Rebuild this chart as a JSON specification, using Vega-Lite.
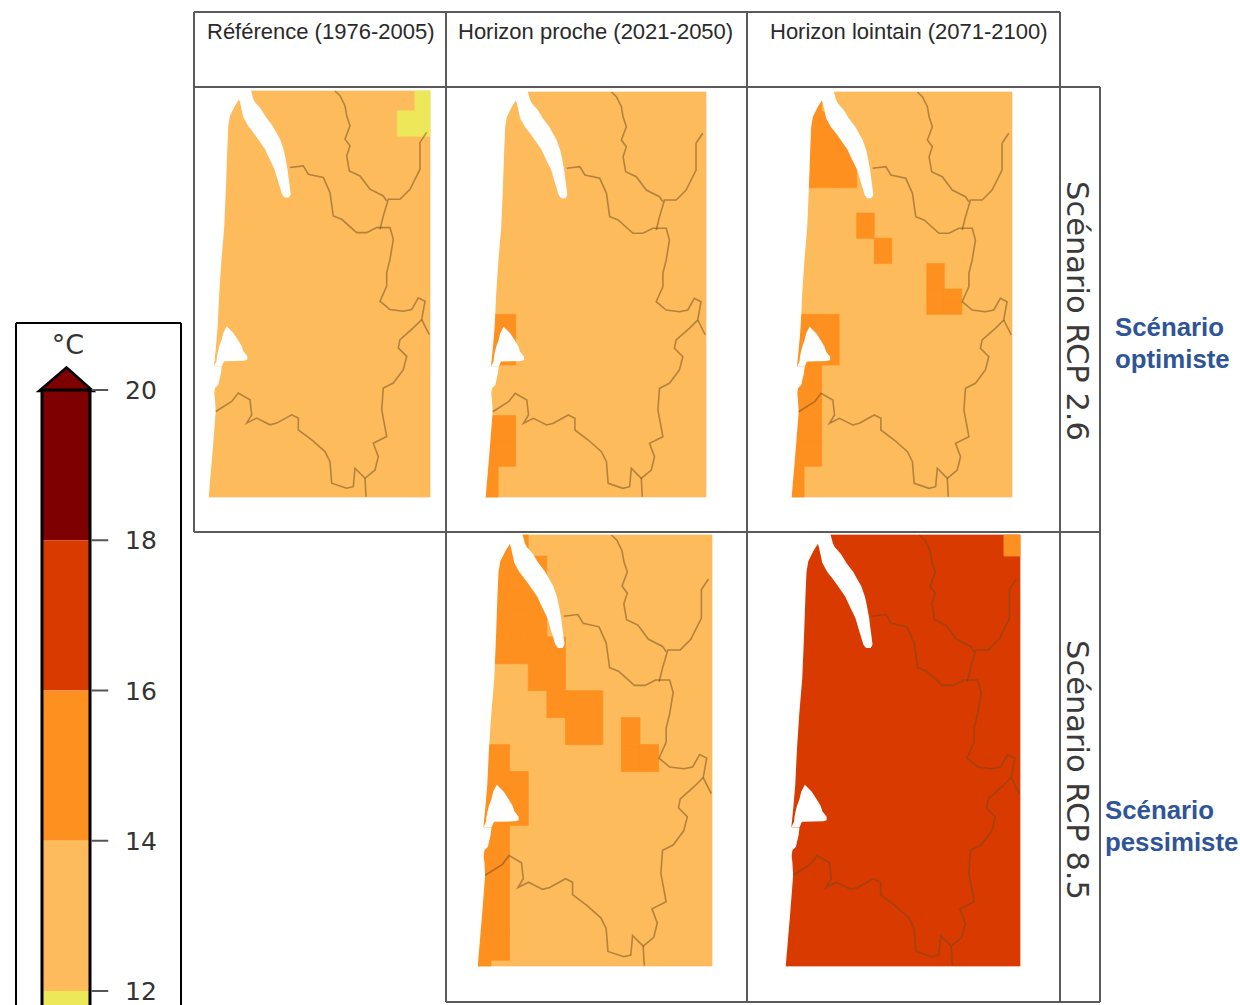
{
"$schema":"https://vega.github.io/schema/vega-lite/v6.json",
"width":1240,"height":1005,"padding":0,"autosize":{"type":"none"},"background":"white",
"config":{"view":{"stroke":null}},
"datasets":{
"cells":[
{"p":1,"x":-4.4,"x2":222,"y":0,"y2":405,"t":"12-14"},
{"p":1,"x":206.8,"x2":222,"y":0,"y2":19.8,"t":"10-12"},
{"p":1,"x":189.2,"x2":206.8,"y":19.8,"y2":45.1,"t":"10-12"},
{"p":1,"x":206.8,"x2":222,"y":19.8,"y2":45.1,"t":"10-12"},
{"p":2,"x":-4.4,"x2":222,"y":0,"y2":405,"t":"12-14"},
{"p":2,"x":-4.4,"x2":13.2,"y":222.3,"y2":247.6,"t":"14-16"},
{"p":2,"x":13.2,"x2":30.8,"y":222.3,"y2":247.6,"t":"14-16"},
{"p":2,"x":-4.4,"x2":13.2,"y":247.6,"y2":273,"t":"14-16"},
{"p":2,"x":13.2,"x2":30.8,"y":247.6,"y2":273,"t":"14-16"},
{"p":2,"x":-4.4,"x2":13.2,"y":323.6,"y2":349,"t":"14-16"},
{"p":2,"x":13.2,"x2":30.8,"y":323.6,"y2":349,"t":"14-16"},
{"p":2,"x":-4.4,"x2":13.2,"y":349,"y2":374.3,"t":"14-16"},
{"p":2,"x":13.2,"x2":30.8,"y":349,"y2":374.3,"t":"14-16"},
{"p":2,"x":-4.4,"x2":13.2,"y":374.3,"y2":399.6,"t":"14-16"},
{"p":2,"x":-4.4,"x2":13.2,"y":399.6,"y2":405,"t":"14-16"},
{"p":3,"x":-4.4,"x2":222,"y":0,"y2":405,"t":"12-14"},
{"p":3,"x":-4.4,"x2":13.2,"y":0,"y2":19.8,"t":"14-16"},
{"p":3,"x":13.2,"x2":30.8,"y":0,"y2":19.8,"t":"14-16"},
{"p":3,"x":-4.4,"x2":13.2,"y":19.8,"y2":45.1,"t":"14-16"},
{"p":3,"x":13.2,"x2":30.8,"y":19.8,"y2":45.1,"t":"14-16"},
{"p":3,"x":30.8,"x2":48.4,"y":19.8,"y2":45.1,"t":"14-16"},
{"p":3,"x":-4.4,"x2":13.2,"y":45.1,"y2":70.4,"t":"14-16"},
{"p":3,"x":13.2,"x2":30.8,"y":45.1,"y2":70.4,"t":"14-16"},
{"p":3,"x":30.8,"x2":48.4,"y":45.1,"y2":70.4,"t":"14-16"},
{"p":3,"x":48.4,"x2":66,"y":45.1,"y2":70.4,"t":"14-16"},
{"p":3,"x":-4.4,"x2":13.2,"y":70.4,"y2":95.7,"t":"14-16"},
{"p":3,"x":13.2,"x2":30.8,"y":70.4,"y2":95.7,"t":"14-16"},
{"p":3,"x":30.8,"x2":48.4,"y":70.4,"y2":95.7,"t":"14-16"},
{"p":3,"x":48.4,"x2":66,"y":70.4,"y2":95.7,"t":"14-16"},
{"p":3,"x":66,"x2":83.6,"y":121,"y2":146.3,"t":"14-16"},
{"p":3,"x":83.6,"x2":101.2,"y":146.3,"y2":171.6,"t":"14-16"},
{"p":3,"x":136.4,"x2":154,"y":171.6,"y2":197,"t":"14-16"},
{"p":3,"x":136.4,"x2":154,"y":197,"y2":222.3,"t":"14-16"},
{"p":3,"x":154,"x2":171.6,"y":197,"y2":222.3,"t":"14-16"},
{"p":3,"x":-4.4,"x2":13.2,"y":222.3,"y2":247.6,"t":"14-16"},
{"p":3,"x":13.2,"x2":30.8,"y":222.3,"y2":247.6,"t":"14-16"},
{"p":3,"x":30.8,"x2":48.4,"y":222.3,"y2":247.6,"t":"14-16"},
{"p":3,"x":-4.4,"x2":13.2,"y":247.6,"y2":273,"t":"14-16"},
{"p":3,"x":13.2,"x2":30.8,"y":247.6,"y2":273,"t":"14-16"},
{"p":3,"x":30.8,"x2":48.4,"y":247.6,"y2":273,"t":"14-16"},
{"p":3,"x":-4.4,"x2":13.2,"y":273,"y2":298.3,"t":"14-16"},
{"p":3,"x":13.2,"x2":30.8,"y":273,"y2":298.3,"t":"14-16"},
{"p":3,"x":-4.4,"x2":13.2,"y":298.3,"y2":323.6,"t":"14-16"},
{"p":3,"x":13.2,"x2":30.8,"y":298.3,"y2":323.6,"t":"14-16"},
{"p":3,"x":-4.4,"x2":13.2,"y":323.6,"y2":349,"t":"14-16"},
{"p":3,"x":13.2,"x2":30.8,"y":323.6,"y2":349,"t":"14-16"},
{"p":3,"x":-4.4,"x2":13.2,"y":349,"y2":374.3,"t":"14-16"},
{"p":3,"x":13.2,"x2":30.8,"y":349,"y2":374.3,"t":"14-16"},
{"p":3,"x":-4.4,"x2":13.2,"y":374.3,"y2":399.6,"t":"14-16"},
{"p":3,"x":-4.4,"x2":13.2,"y":399.6,"y2":405,"t":"14-16"},
{"p":4,"x":-4.4,"x2":222,"y":0,"y2":405,"t":"12-14"},
{"p":4,"x":-4.4,"x2":13.2,"y":0,"y2":19.8,"t":"14-16"},
{"p":4,"x":13.2,"x2":30.8,"y":0,"y2":19.8,"t":"14-16"},
{"p":4,"x":30.8,"x2":48.4,"y":0,"y2":19.8,"t":"14-16"},
{"p":4,"x":-4.4,"x2":13.2,"y":19.8,"y2":45.1,"t":"14-16"},
{"p":4,"x":13.2,"x2":30.8,"y":19.8,"y2":45.1,"t":"14-16"},
{"p":4,"x":30.8,"x2":48.4,"y":19.8,"y2":45.1,"t":"14-16"},
{"p":4,"x":48.4,"x2":66,"y":19.8,"y2":45.1,"t":"14-16"},
{"p":4,"x":-4.4,"x2":13.2,"y":45.1,"y2":70.4,"t":"14-16"},
{"p":4,"x":13.2,"x2":30.8,"y":45.1,"y2":70.4,"t":"14-16"},
{"p":4,"x":30.8,"x2":48.4,"y":45.1,"y2":70.4,"t":"14-16"},
{"p":4,"x":48.4,"x2":66,"y":45.1,"y2":70.4,"t":"14-16"},
{"p":4,"x":-4.4,"x2":13.2,"y":70.4,"y2":95.7,"t":"14-16"},
{"p":4,"x":13.2,"x2":30.8,"y":70.4,"y2":95.7,"t":"14-16"},
{"p":4,"x":30.8,"x2":48.4,"y":70.4,"y2":95.7,"t":"14-16"},
{"p":4,"x":48.4,"x2":66,"y":70.4,"y2":95.7,"t":"14-16"},
{"p":4,"x":-4.4,"x2":13.2,"y":95.7,"y2":121,"t":"14-16"},
{"p":4,"x":13.2,"x2":30.8,"y":95.7,"y2":121,"t":"14-16"},
{"p":4,"x":30.8,"x2":48.4,"y":95.7,"y2":121,"t":"14-16"},
{"p":4,"x":48.4,"x2":66,"y":95.7,"y2":121,"t":"14-16"},
{"p":4,"x":66,"x2":83.6,"y":95.7,"y2":121,"t":"14-16"},
{"p":4,"x":48.4,"x2":66,"y":121,"y2":146.3,"t":"14-16"},
{"p":4,"x":66,"x2":83.6,"y":121,"y2":146.3,"t":"14-16"},
{"p":4,"x":66,"x2":83.6,"y":146.3,"y2":171.6,"t":"14-16"},
{"p":4,"x":83.6,"x2":101.2,"y":146.3,"y2":171.6,"t":"14-16"},
{"p":4,"x":101.2,"x2":118.8,"y":146.3,"y2":171.6,"t":"14-16"},
{"p":4,"x":83.6,"x2":101.2,"y":171.6,"y2":197,"t":"14-16"},
{"p":4,"x":101.2,"x2":118.8,"y":171.6,"y2":197,"t":"14-16"},
{"p":4,"x":136.4,"x2":154,"y":171.6,"y2":197,"t":"14-16"},
{"p":4,"x":136.4,"x2":154,"y":197,"y2":222.3,"t":"14-16"},
{"p":4,"x":154,"x2":171.6,"y":197,"y2":222.3,"t":"14-16"},
{"p":4,"x":-4.4,"x2":13.2,"y":197,"y2":222.3,"t":"14-16"},
{"p":4,"x":13.2,"x2":30.8,"y":197,"y2":222.3,"t":"14-16"},
{"p":4,"x":-4.4,"x2":13.2,"y":222.3,"y2":247.6,"t":"14-16"},
{"p":4,"x":13.2,"x2":30.8,"y":222.3,"y2":247.6,"t":"14-16"},
{"p":4,"x":30.8,"x2":48.4,"y":222.3,"y2":247.6,"t":"14-16"},
{"p":4,"x":-4.4,"x2":13.2,"y":247.6,"y2":273,"t":"14-16"},
{"p":4,"x":13.2,"x2":30.8,"y":247.6,"y2":273,"t":"14-16"},
{"p":4,"x":30.8,"x2":48.4,"y":247.6,"y2":273,"t":"14-16"},
{"p":4,"x":-4.4,"x2":13.2,"y":273,"y2":298.3,"t":"14-16"},
{"p":4,"x":13.2,"x2":30.8,"y":273,"y2":298.3,"t":"14-16"},
{"p":4,"x":-4.4,"x2":13.2,"y":298.3,"y2":323.6,"t":"14-16"},
{"p":4,"x":13.2,"x2":30.8,"y":298.3,"y2":323.6,"t":"14-16"},
{"p":4,"x":-4.4,"x2":13.2,"y":323.6,"y2":349,"t":"14-16"},
{"p":4,"x":13.2,"x2":30.8,"y":323.6,"y2":349,"t":"14-16"},
{"p":4,"x":-4.4,"x2":13.2,"y":349,"y2":374.3,"t":"14-16"},
{"p":4,"x":13.2,"x2":30.8,"y":349,"y2":374.3,"t":"14-16"},
{"p":4,"x":-4.4,"x2":13.2,"y":374.3,"y2":399.6,"t":"14-16"},
{"p":4,"x":13.2,"x2":30.8,"y":374.3,"y2":399.6,"t":"14-16"},
{"p":4,"x":-4.4,"x2":13.2,"y":399.6,"y2":405,"t":"14-16"},
{"p":5,"x":-4.4,"x2":222,"y":0,"y2":405,"t":"16-18"},
{"p":5,"x":206.8,"x2":222,"y":0,"y2":19.8,"t":"14-16"}
],
"water":[
{"s":"sea","y":-2,"x":-8,"x2":31},{"s":"sea","y":8,"x":-8,"x2":31.3},{"s":"sea","y":14.7,"x":-8,"x2":27},{"s":"sea","y":24.7,"x":-8,"x2":22},{"s":"sea","y":34.7,"x":-8,"x2":20.3},{"s":"sea","y":58,"x":-8,"x2":19.3},{"s":"sea","y":94.7,"x":-8,"x2":18},{"s":"sea","y":134.7,"x":-8,"x2":16.3},{"s":"sea","y":168,"x":-8,"x2":13.5},{"s":"sea","y":201,"x":-8,"x2":11.3},{"s":"sea","y":234.7,"x":-8,"x2":9.7},{"s":"sea","y":254.7,"x":-8,"x2":8},{"s":"sea","y":274.7,"x":-8,"x2":6},{"s":"sea","y":274.8,"x":-8,"x2":13.7},{"s":"sea","y":281.3,"x":-8,"x2":13},{"s":"sea","y":293,"x":-8,"x2":10.3},{"s":"sea","y":296.3,"x":-8,"x2":7},{"s":"sea","y":301.3,"x":-8,"x2":6.3},{"s":"sea","y":308,"x":-8,"x2":7},{"s":"sea","y":319.7,"x":-8,"x2":7.7},{"s":"sea","y":358,"x":-8,"x2":4.7},{"s":"sea","y":405,"x":-8,"x2":0.7},{"s":"sea","y":407,"x":-8,"x2":0.5},
{"s":"est","y":-2,"x":30,"x2":42.5},{"s":"est","y":8,"x":31,"x2":45.3},{"s":"est","y":11.3,"x":32,"x2":47},{"s":"est","y":18,"x":33.5,"x2":53},{"s":"est","y":26.3,"x":35.3,"x2":58},{"s":"est","y":34.7,"x":40,"x2":64.5},{"s":"est","y":41,"x":45,"x2":68},{"s":"est","y":48,"x":50,"x2":72},{"s":"est","y":58,"x":57,"x2":75.5},{"s":"est","y":64.7,"x":60,"x2":77},{"s":"est","y":78,"x":66.5,"x2":79.5},{"s":"est","y":84.7,"x":68.5,"x2":80.3},{"s":"est","y":91.3,"x":70.5,"x2":81.2},{"s":"est","y":103,"x":74,"x2":82.7},{"s":"est","y":106.3,"x":76.5,"x2":81},
{"s":"bay","y":234.7,"x":18.7,"x2":18.7},{"s":"bay","y":241.3,"x":15.3,"x2":25.3},{"s":"bay","y":248,"x":13.7,"x2":29.7},{"s":"bay","y":254.7,"x":11.3,"x2":33.7},{"s":"bay","y":259.7,"x":10,"x2":35.3},{"s":"bay","y":264.7,"x":9,"x2":39.3},{"s":"bay","y":268,"x":8.7,"x2":39.3},{"s":"bay","y":269,"x":8.6,"x2":36},{"s":"bay","y":269.5,"x":8.5,"x2":16},{"s":"bay","y":274.7,"x":6,"x2":13.7}
],
"rivers":[
{"r":"a","i":1,"x":127,"y":0},{"r":"a","i":2,"x":132,"y":4.7},{"r":"a","i":3,"x":137,"y":14.7},{"r":"a","i":4,"x":138.7,"y":24.7},{"r":"a","i":5,"x":142,"y":34.7},{"r":"a","i":6,"x":137,"y":48},{"r":"a","i":7,"x":142,"y":54.7},{"r":"a","i":8,"x":138.7,"y":64.7},{"r":"a","i":9,"x":141.3,"y":79.7},{"r":"a","i":10,"x":152,"y":84.7},{"r":"a","i":11,"x":162,"y":98},{"r":"a","i":12,"x":175.3,"y":104.7},{"r":"a","i":13,"x":178.7,"y":109.7},
{"r":"b","i":1,"x":218.7,"y":41.3},{"r":"b","i":2,"x":212,"y":51.3},{"r":"b","i":3,"x":212,"y":78},{"r":"b","i":4,"x":202,"y":98},{"r":"b","i":5,"x":192,"y":108},{"r":"b","i":6,"x":180.3,"y":108},{"r":"b","i":7,"x":175.3,"y":124.7},{"r":"b","i":8,"x":172,"y":138},
{"r":"c","i":1,"x":82,"y":76.3},{"r":"c","i":2,"x":95.3,"y":74.7},{"r":"c","i":3,"x":100.3,"y":83},{"r":"c","i":4,"x":115.3,"y":86.3},{"r":"c","i":5,"x":122,"y":101.3},{"r":"c","i":6,"x":125.3,"y":124.7},{"r":"c","i":7,"x":133.7,"y":128},{"r":"c","i":8,"x":148.7,"y":141.3},{"r":"c","i":9,"x":158.7,"y":141.3},{"r":"c","i":10,"x":168.7,"y":136.3},{"r":"c","i":11,"x":182,"y":136.3},{"r":"c","i":12,"x":185.3,"y":148},{"r":"c","i":13,"x":182,"y":168},{"r":"c","i":14,"x":178.7,"y":181.3},{"r":"c","i":15,"x":178.7,"y":194.7},{"r":"c","i":16,"x":172,"y":209.7},{"r":"c","i":17,"x":182,"y":218},{"r":"c","i":18,"x":195.3,"y":219.7},{"r":"c","i":19,"x":203.7,"y":218},{"r":"c","i":20,"x":210.3,"y":206.3},{"r":"c","i":21,"x":217,"y":209.7},{"r":"c","i":22,"x":213.7,"y":228},{"r":"c","i":23,"x":205.3,"y":236.3},{"r":"c","i":24,"x":192,"y":248},{"r":"c","i":25,"x":190.3,"y":256.3},{"r":"c","i":26,"x":198.7,"y":264.7},{"r":"c","i":27,"x":195.3,"y":278},{"r":"c","i":28,"x":185.3,"y":291.3},{"r":"c","i":29,"x":175.3,"y":296.3},{"r":"c","i":30,"x":173.7,"y":318},{"r":"c","i":31,"x":178.7,"y":344.7},{"r":"c","i":32,"x":165.3,"y":351.3},{"r":"c","i":33,"x":170.3,"y":364.7},{"r":"c","i":34,"x":167,"y":378},{"r":"c","i":35,"x":157,"y":386.3},{"r":"c","i":36,"x":147,"y":376.3},{"r":"c","i":37,"x":145.3,"y":394.7},{"r":"c","i":38,"x":138.7,"y":396.3},{"r":"c","i":39,"x":123.7,"y":391.3},{"r":"c","i":40,"x":122,"y":369.7},{"r":"c","i":41,"x":117,"y":359.7},{"r":"c","i":42,"x":103.7,"y":348},{"r":"c","i":43,"x":90.3,"y":338},{"r":"c","i":44,"x":90.3,"y":326.3},{"r":"c","i":45,"x":83.7,"y":323},{"r":"c","i":46,"x":68.7,"y":331.3},{"r":"c","i":47,"x":62,"y":333},{"r":"c","i":48,"x":48.7,"y":326.3},{"r":"c","i":49,"x":38.7,"y":331.3},{"r":"c","i":50,"x":43.7,"y":323},{"r":"c","i":51,"x":42,"y":308},{"r":"c","i":52,"x":30.3,"y":301.3},{"r":"c","i":53,"x":23.7,"y":309.7},{"r":"c","i":54,"x":7.7,"y":319.7},
{"r":"d","i":1,"x":213.7,"y":228},{"r":"d","i":2,"x":221.3,"y":243},
{"r":"e","i":1,"x":157,"y":386.3},{"r":"e","i":2,"x":158,"y":404.7}
]
},
"resolve":{"scale":{"x":"independent","y":"independent"}},
"layer":[
{"encoding":{"x":{"field":"x","type":"quantitative","stack":null,"axis":null,"scale":{"domain":[0,222],"range":[208,430],"nice":false,"zero":false}},"y":{"field":"y","type":"quantitative","axis":null,"scale":{"domain":[0,405],"range":[91,497],"nice":false,"zero":false}}},
"layer":[
{"data":{"name":"cells"},"transform":[{"filter":"datum.p==1"}],"mark":{"type":"rect","strokeWidth":0.7},"encoding":{"x2":{"field":"x2"},"y2":{"field":"y2"},"color":{"field":"t","type":"nominal","legend":null,"scale":{"domain":["10-12","12-14","14-16","16-18","18-20"],"range":["#ede85a","#fdbb5c","#fe9020","#d93a00","#7f0000"]}},"stroke":{"field":"t","type":"nominal","legend":null,"scale":{"domain":["10-12","12-14","14-16","16-18","18-20"],"range":["#ede85a","#fdbb5c","#fe9020","#d93a00","#7f0000"]}}}},
{"data":{"name":"water"},"mark":{"type":"area","orient":"horizontal","fill":"white"},"encoding":{"x2":{"field":"x2"},"detail":{"field":"s"}}},
{"data":{"name":"rivers"},"mark":{"type":"line","stroke":"#6b4a1e","opacity":0.5,"strokeWidth":1.6},"encoding":{"detail":{"field":"r"},"order":{"field":"i"}}}
]},
{"encoding":{"x":{"field":"x","type":"quantitative","stack":null,"axis":null,"scale":{"domain":[0,222],"range":[485,706],"nice":false,"zero":false}},"y":{"field":"y","type":"quantitative","axis":null,"scale":{"domain":[0,405],"range":[92,497],"nice":false,"zero":false}}},
"layer":[
{"data":{"name":"cells"},"transform":[{"filter":"datum.p==2"}],"mark":{"type":"rect","strokeWidth":0.7},"encoding":{"x2":{"field":"x2"},"y2":{"field":"y2"},"color":{"field":"t","type":"nominal","legend":null},"stroke":{"field":"t","type":"nominal","legend":null}}},
{"data":{"name":"water"},"mark":{"type":"area","orient":"horizontal","fill":"white"},"encoding":{"x2":{"field":"x2"},"detail":{"field":"s"}}},
{"data":{"name":"rivers"},"mark":{"type":"line","stroke":"#6b4a1e","opacity":0.5,"strokeWidth":1.6},"encoding":{"detail":{"field":"r"},"order":{"field":"i"}}}
]},
{"encoding":{"x":{"field":"x","type":"quantitative","stack":null,"axis":null,"scale":{"domain":[0,222],"range":[791,1012],"nice":false,"zero":false}},"y":{"field":"y","type":"quantitative","axis":null,"scale":{"domain":[0,405],"range":[92,497],"nice":false,"zero":false}}},
"layer":[
{"data":{"name":"cells"},"transform":[{"filter":"datum.p==3"}],"mark":{"type":"rect","strokeWidth":0.7},"encoding":{"x2":{"field":"x2"},"y2":{"field":"y2"},"color":{"field":"t","type":"nominal","legend":null},"stroke":{"field":"t","type":"nominal","legend":null}}},
{"data":{"name":"water"},"mark":{"type":"area","orient":"horizontal","fill":"white"},"encoding":{"x2":{"field":"x2"},"detail":{"field":"s"}}},
{"data":{"name":"rivers"},"mark":{"type":"line","stroke":"#6b4a1e","opacity":0.5,"strokeWidth":1.6},"encoding":{"detail":{"field":"r"},"order":{"field":"i"}}}
]},
{"encoding":{"x":{"field":"x","type":"quantitative","stack":null,"axis":null,"scale":{"domain":[0,222],"range":[477,712],"nice":false,"zero":false}},"y":{"field":"y","type":"quantitative","axis":null,"scale":{"domain":[0,405],"range":[535,966],"nice":false,"zero":false}}},
"layer":[
{"data":{"name":"cells"},"transform":[{"filter":"datum.p==4"}],"mark":{"type":"rect","strokeWidth":0.7},"encoding":{"x2":{"field":"x2"},"y2":{"field":"y2"},"color":{"field":"t","type":"nominal","legend":null},"stroke":{"field":"t","type":"nominal","legend":null}}},
{"data":{"name":"water"},"mark":{"type":"area","orient":"horizontal","fill":"white"},"encoding":{"x2":{"field":"x2"},"detail":{"field":"s"}}},
{"data":{"name":"rivers"},"mark":{"type":"line","stroke":"#6b4a1e","opacity":0.5,"strokeWidth":1.6},"encoding":{"detail":{"field":"r"},"order":{"field":"i"}}}
]},
{"encoding":{"x":{"field":"x","type":"quantitative","stack":null,"axis":null,"scale":{"domain":[0,222],"range":[785,1020],"nice":false,"zero":false}},"y":{"field":"y","type":"quantitative","axis":null,"scale":{"domain":[0,405],"range":[535,966],"nice":false,"zero":false}}},
"layer":[
{"data":{"name":"cells"},"transform":[{"filter":"datum.p==5"}],"mark":{"type":"rect","strokeWidth":0.7},"encoding":{"x2":{"field":"x2"},"y2":{"field":"y2"},"color":{"field":"t","type":"nominal","legend":null},"stroke":{"field":"t","type":"nominal","legend":null}}},
{"data":{"name":"water"},"mark":{"type":"area","orient":"horizontal","fill":"white"},"encoding":{"x2":{"field":"x2"},"detail":{"field":"s"}}},
{"data":{"name":"rivers"},"mark":{"type":"line","stroke":"#6b4a1e","opacity":0.5,"strokeWidth":1.6},"encoding":{"detail":{"field":"r"},"order":{"field":"i"}}}
]},
{"encoding":{"x":{"field":"x","type":"quantitative","axis":null,"scale":{"domain":[0,1240],"range":[0,1240],"nice":false,"zero":false}},"y":{"field":"y","type":"quantitative","axis":null,"scale":{"domain":[0,1005],"range":[0,1005],"nice":false,"zero":false}}},
"layer":[
{"data":{"values":[
{"x":194,"x2":1060,"y":12,"y2":12},{"x":194,"x2":1100,"y":87,"y2":87},{"x":194,"x2":1100,"y":532,"y2":532},{"x":446,"x2":1100,"y":1002,"y2":1002},
{"x":194,"x2":194,"y":12,"y2":532},{"x":446,"x2":446,"y":12,"y2":1002},{"x":747,"x2":747,"y":12,"y2":1002},{"x":1060,"x2":1060,"y":12,"y2":1002},{"x":1100,"x2":1100,"y":87,"y2":1002}]},
"mark":{"type":"rule","stroke":"#5a5a5a","strokeWidth":2},"encoding":{"x2":{"field":"x2"},"y2":{"field":"y2"}}},
{"data":{"values":[{"x":16,"x2":181,"y":323,"y2":323},{"x":16,"x2":16,"y":323,"y2":1005},{"x":181,"x2":181,"y":323,"y2":1005}]},
"mark":{"type":"rule","stroke":"#000000","strokeWidth":2},"encoding":{"x2":{"field":"x2"},"y2":{"field":"y2"}}},
{"data":{"values":[{"x":207,"y":32,"text":"Référence (1976-2005)"},{"x":458,"y":32,"text":"Horizon proche (2021-2050)"},{"x":770,"y":32,"text":"Horizon lointain (2071-2100)"}]},
"mark":{"type":"text","font":"Liberation Sans","fontSize":22,"fill":"#2a2a2a","align":"left","baseline":"middle"},"encoding":{"text":{"field":"text"}}},
{"data":{"values":[{"x":1076,"y":311,"text":"Scénario RCP 2.6"},{"x":1076,"y":770,"text":"Scénario RCP 8.5"}]},
"mark":{"type":"text","font":"DejaVu Sans","fontSize":30.5,"fill":"#3a3a3a","align":"center","baseline":"middle","angle":90},"encoding":{"text":{"field":"text"}}},
{"data":{"values":[{"x":1115,"y":328,"text":"Scénario"},{"x":1115,"y":360,"text":"optimiste"},{"x":1105,"y":811,"text":"Scénario"},{"x":1105,"y":843,"text":"pessimiste"}]},
"mark":{"type":"text","font":"Liberation Sans","fontWeight":"bold","fontSize":25.8,"fill":"#2f5597","align":"left","baseline":"middle"},"encoding":{"text":{"field":"text"}}},
{"data":{"values":[{"x":68,"y":346,"text":"°C"}]},
"mark":{"type":"text","font":"DejaVu Sans","fontSize":27,"fill":"#333333","align":"center","baseline":"middle"},"encoding":{"text":{"field":"text"}}},
{"data":{"values":[{"y":367.5,"x":66.5,"x2":66.5},{"y":391,"x":39,"x2":93}]},
"mark":{"type":"area","orient":"horizontal","fill":"#7f0000","stroke":"#000000","strokeWidth":2.5},"encoding":{"x2":{"field":"x2"}}}
]},
{"encoding":{"x":{"field":"x","type":"quantitative","axis":null,"scale":{"domain":[0,1],"range":[42,90],"nice":false,"zero":false}},"y":{"field":"v","type":"quantitative","axis":null,"scale":{"domain":[12,20],"range":[991,390],"nice":false,"zero":false}}},
"layer":[
{"data":{"values":[{"x":0,"x2":1,"v":18,"v2":20,"t":"18-20"},{"x":0,"x2":1,"v":16,"v2":18,"t":"16-18"},{"x":0,"x2":1,"v":14,"v2":16,"t":"14-16"},{"x":0,"x2":1,"v":12,"v2":14,"t":"12-14"},{"x":0,"x2":1,"v":11.8,"v2":12,"t":"10-12"}]},
"mark":{"type":"rect"},"encoding":{"x2":{"field":"x2"},"y2":{"field":"v2"},"color":{"field":"t","type":"nominal","legend":null}}},
{"data":{"values":[{"x":0,"x2":0,"v":11.8,"v2":20},{"x":1,"x2":1,"v":11.8,"v2":20},{"x":0,"x2":1,"v":20,"v2":20}]},
"mark":{"type":"rule","stroke":"#000000","strokeWidth":3},"encoding":{"x2":{"field":"x2"},"y2":{"field":"v2"}}},
{"data":{"values":[{"x":1.03,"x2":1.38,"v":20},{"x":1.03,"x2":1.38,"v":18},{"x":1.03,"x2":1.38,"v":16},{"x":1.03,"x2":1.38,"v":14},{"x":1.03,"x2":1.38,"v":12}]},
"mark":{"type":"rule","stroke":"#555555","strokeWidth":2},"encoding":{"x2":{"field":"x2"}}},
{"data":{"values":[{"x":1.73,"v":20,"text":"20"},{"x":1.73,"v":18,"text":"18"},{"x":1.73,"v":16,"text":"16"},{"x":1.73,"v":14,"text":"14"},{"x":1.73,"v":12,"text":"12"}]},
"mark":{"type":"text","font":"DejaVu Sans","fontSize":25,"dy":1,"fill":"#333333","align":"left","baseline":"middle"},"encoding":{"text":{"field":"text"}}}
]}
]
}
